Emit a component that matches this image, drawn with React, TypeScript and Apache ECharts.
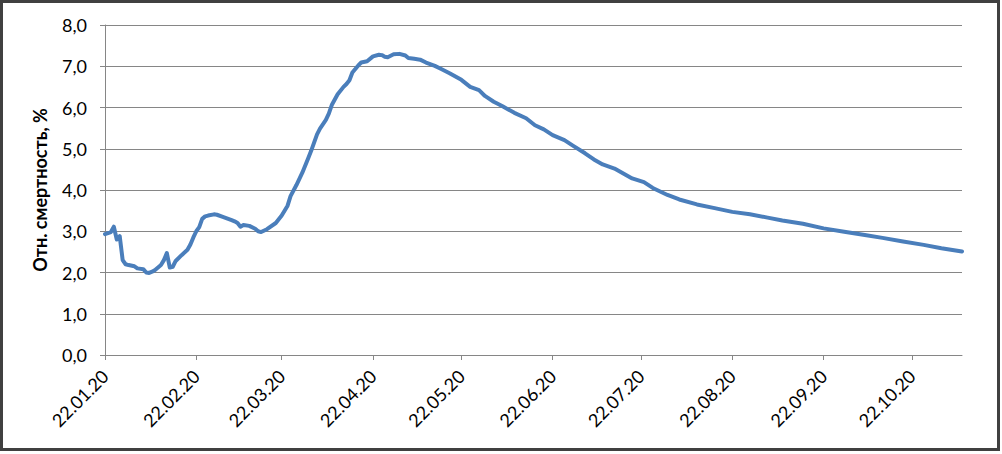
import React, { useEffect, useRef } from "react";
import * as echarts from "echarts";

// Date range of the axis (dd.mm.yy)
const START_DATE = "2020-01-22";
const END_DATE = "2020-11-08";

const sampleDates = [
  "22.01.20", "24.01.20", "25.01.20", "26.01.20", "27.01.20", "28.01.20", "29.01.20", "30.01.20",
  "01.02.20", "02.02.20", "04.02.20", "05.02.20", "06.02.20", "07.02.20", "08.02.20", "10.02.20",
  "11.02.20", "12.02.20", "13.02.20", "14.02.20", "15.02.20", "17.02.20", "19.02.20", "20.02.20",
  "21.02.20", "22.02.20", "23.02.20", "24.02.20", "25.02.20", "26.02.20", "28.02.20", "29.02.20",
  "02.03.20", "05.03.20", "06.03.20", "07.03.20", "08.03.20", "09.03.20", "11.03.20", "13.03.20",
  "14.03.20", "15.03.20", "17.03.20", "20.03.20", "22.03.20", "24.03.20", "25.03.20", "27.03.20",
  "29.03.20", "31.03.20", "01.04.20", "02.04.20", "03.04.20", "04.04.20", "06.04.20", "07.04.20",
  "08.04.20", "10.04.20", "12.04.20", "13.04.20", "14.04.20", "15.04.20", "17.04.20", "18.04.20",
  "20.04.20", "22.04.20", "24.04.20", "25.04.20", "26.04.20", "27.04.20", "29.04.20", "01.05.20",
  "03.05.20", "04.05.20", "06.05.20", "08.05.20", "10.05.20", "13.05.20", "15.05.20", "18.05.20",
  "22.05.20", "25.05.20", "28.05.20", "30.05.20", "02.06.20", "05.06.20", "09.06.20", "13.06.20",
  "16.06.20", "19.06.20", "22.06.20", "26.06.20", "29.06.20", "03.07.20", "06.07.20", "09.07.20",
  "13.07.20", "16.07.20", "19.07.20", "23.07.20", "26.07.20", "31.07.20", "04.08.20", "10.08.20",
  "16.08.20", "22.08.20", "28.08.20", "03.09.20", "08.09.20", "15.09.20", "22.09.20", "29.09.20",
  "06.10.20", "12.10.20", "19.10.20", "26.10.20", "01.11.20", "08.11.20",
];
const sampleValues = [
  2.93, 2.98, 3.11, 2.80, 2.88, 2.30, 2.20, 2.18,
  2.15, 2.10, 2.08, 2.00, 1.99, 2.02, 2.06, 2.18,
  2.30, 2.47, 2.12, 2.14, 2.28, 2.42, 2.55, 2.68,
  2.85, 3.00, 3.10, 3.30, 3.36, 3.38, 3.41, 3.40,
  3.35, 3.27, 3.24, 3.20, 3.11, 3.15, 3.13, 3.06,
  3.00, 2.98, 3.05, 3.20, 3.38, 3.62, 3.85, 4.12,
  4.42, 4.77, 4.95, 5.15, 5.35, 5.49, 5.70, 5.85,
  6.06, 6.32, 6.50, 6.57, 6.66, 6.85, 7.02, 7.09,
  7.12, 7.24, 7.28, 7.27, 7.23, 7.22, 7.29, 7.30,
  7.26, 7.20, 7.18, 7.16, 7.09, 7.01, 6.94, 6.83,
  6.67, 6.50, 6.42, 6.28, 6.14, 6.03, 5.87, 5.74,
  5.57, 5.47, 5.33, 5.21, 5.07, 4.89, 4.74, 4.62,
  4.52, 4.40, 4.28, 4.19, 4.05, 3.88, 3.77, 3.65,
  3.56, 3.47, 3.41, 3.33, 3.26, 3.18, 3.07, 2.99,
  2.91, 2.84, 2.75, 2.67, 2.59, 2.51,
];

const yTicks = [0, 1, 2, 3, 4, 5, 6, 7, 8];
const yTitle = "Отн. смертность, %";

function buildCategories(): string[] {
  const out: string[] = [];
  const d = new Date(START_DATE + "T00:00:00Z");
  const end = new Date(END_DATE + "T00:00:00Z");
  while (d.getTime() <= end.getTime()) {
    const dd = String(d.getUTCDate()).padStart(2, "0");
    const mm = String(d.getUTCMonth() + 1).padStart(2, "0");
    const yy = String(d.getUTCFullYear()).slice(2);
    out.push(`${dd}.${mm}.${yy}`);
    d.setUTCDate(d.getUTCDate() + 1);
  }
  return out;
}

const FONT = 'Lato, "Noto Sans", sans-serif';

export default function App() {
  const ref = useRef<HTMLDivElement>(null);
  useEffect(() => {
    if (!ref.current) return;
    const chart = echarts.init(ref.current, undefined, { renderer: "svg" });
    const categories = buildCategories();
    const values: (number | null)[] = categories.map(() => null);
    sampleDates.forEach((s, i) => {
      const idx = categories.indexOf(s);
      if (idx >= 0) values[idx] = sampleValues[i];
    });
    const isMonthTick = (_i: number, v: string) => v.startsWith("22.");
    chart.setOption({
      animation: false,
      backgroundColor: "#ffffff",
      textStyle: { fontFamily: FONT },
      graphic: [
        {
          type: "rect",
          shape: { x: 1.5, y: 1.5, width: 997, height: 448 },
          style: { fill: "none", stroke: "#404040", lineWidth: 3 },
          silent: true,
        },
      ],
      grid: { left: 105, right: 40, top: 25, bottom: 99, containLabel: false },
      xAxis: {
        type: "category",
        data: categories,
        boundaryGap: false,
        axisLine: { lineStyle: { color: "#868686", width: 1 } },
        axisTick: { interval: isMonthTick, length: 5, lineStyle: { color: "#868686" } },
        axisLabel: {
          interval: isMonthTick,
          rotate: 45,
          margin: 18,
          fontSize: 18,
          color: "#000000",
          fontFamily: FONT,
        },
        splitLine: { show: false },
      },
      yAxis: {
        type: "value",
        min: yTicks[0],
        max: yTicks[yTicks.length - 1],
        interval: 1,
        name: yTitle,
        nameLocation: "middle",
        nameRotate: 90,
        nameGap: 56,
        nameTextStyle: { fontSize: 18, fontWeight: "bold", color: "#000000", fontFamily: FONT },
        axisLine: { show: true, lineStyle: { color: "#868686", width: 1 } },
        axisTick: { show: true, length: 5, lineStyle: { color: "#868686" } },
        axisLabel: {
          margin: 18,
          fontSize: 18,
          color: "#000000",
          fontFamily: FONT,
          formatter: (v: number) => v.toFixed(1).replace(".", ","),
        },
        splitLine: { lineStyle: { color: "#868686", width: 1 } },
      },
      series: [
        {
          type: "line",
          data: values,
          connectNulls: true,
          showSymbol: false,
          symbol: "none",
          lineStyle: { color: "#4a7ebb", width: 4, join: "round", cap: "round" },
          itemStyle: { color: "#4a7ebb" },
        },
      ],
    });
    return () => chart.dispose();
  }, []);
  return (
    <div
      ref={ref}
      style={{ position: "absolute", left: 0, top: 0, width: 1002, height: 454 }}
    />
  );
}
